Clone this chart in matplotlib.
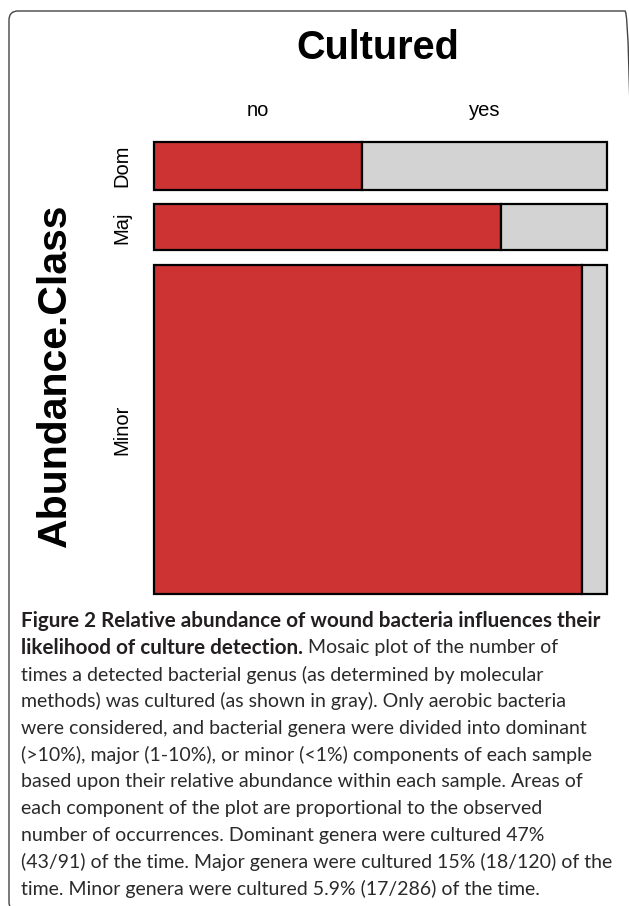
import matplotlib
matplotlib.use("Agg")
import matplotlib.pyplot as plt
import matplotlib.transforms as mtransforms
from matplotlib.patches import Rectangle, FancyBboxPatch

classes = ["Dom", "Maj", "Minor"]
cultured = ["no", "yes"]
row_share = [0.113, 0.109, 0.778]   # share of all occurrences per class
no_share = [0.46, 0.766, 0.945]     # share not cultured within each class

colors = ["#CD3333", "#D3D3D3"]

caption_bold1 = "Figure 2 Relative abundance of wound bacteria influences their"
caption_bold2 = "likelihood of culture detection."
caption_rest2 = " Mosaic plot of the number of"
caption_lines = [
    "times a detected bacterial genus (as determined by molecular",
    "methods) was cultured (as shown in gray). Only aerobic bacteria",
    "were considered, and bacterial genera were divided into dominant",
    "(>10%), major (1-10%), or minor (<1%) components of each sample",
    "based upon their relative abundance within each sample. Areas of",
    "each component of the plot are proportional to the observed",
    "number of occurrences. Dominant genera were cultured 47%",
    "(43/91) of the time. Major genera were cultured 15% (18/120) of the",
    "time. Minor genera were cultured 5.9% (17/286) of the time.",
]

W, H = 629, 906
fig = plt.figure(figsize=(W / 100, H / 100), dpi=100)

# rounded frame around the figure panel (right and bottom sides run off the page)
frame = FancyBboxPatch((0.09, -0.05), 6.25, 9.0,
                       boxstyle="round,pad=0,rounding_size=0.09",
                       transform=fig.dpi_scale_trans, fc="none",
                       ec="#444444", lw=1.0)
fig.patches.append(frame)

# mosaic axes
ax = fig.add_axes([154 / W, 1 - 594 / H, (607 - 154) / W, (594 - 142) / H])
gap = 0.0345
total = sum(row_share) + gap * (len(row_share) - 1)
ax.set_xlim(0, 1)
ax.set_ylim(total, 0)
ax.axis("off")

y = 0
centers = []
for cls, h, p in zip(classes, row_share, no_share):
    ax.add_patch(Rectangle((0, y), p, h, fc=colors[0], ec="black", lw=1.6, clip_on=False))
    ax.add_patch(Rectangle((p, y), 1 - p, h, fc=colors[1], ec="black", lw=1.6, clip_on=False))
    centers.append(y + h / 2)
    y += h + gap

# row labels
trans_y = mtransforms.blended_transform_factory(ax.transAxes, ax.transData)
for cls, c in zip(classes, centers):
    ax.text(-0.07, c, cls, transform=trans_y, rotation=90, ha="center", va="center",
            fontsize=14.5, family="Liberation Sans")

# column labels, over the first row's segments
trans_x = mtransforms.blended_transform_factory(ax.transData, ax.transAxes)
for lab, xc in zip(cultured, [no_share[0] / 2, (1 + no_share[0]) / 2]):
    ax.text(xc, 1 + 31 / 452, lab, transform=trans_x, ha="center", va="center",
            fontsize=14.5, family="Liberation Sans")

fig.text(378 / W, 1 - 48 / H, "Cultured", ha="center", va="center",
         fontsize=28.5, fontweight="bold", family="Liberation Sans")
fig.text(55 / W, 1 - 375 / H, "Abundance.Class", ha="center", va="center", rotation=90,
         fontsize=29.5, fontweight="bold", family="Liberation Sans")

# caption
reg_font = dict(fontsize=14.0, family="Lato", color="#2a2a2a")
bold_font = dict(fontsize=14.9, family="Lato", color="#231F20", fontweight="bold")
x0 = 21 / W
line_h = 26.8 / H
y0 = 1 - 621 / H
fig.text(x0, y0, caption_bold1, va="center", ha="left", **bold_font)
t = fig.text(x0, y0 - line_h, caption_bold2, va="center", ha="left", **bold_font)
r = fig.canvas.get_renderer()
bb = t.get_window_extent(r)
fig.text(bb.x1 / W, y0 - line_h, caption_rest2, va="center", ha="left", **reg_font)
for i, line in enumerate(caption_lines):
    fig.text(x0, y0 - (i + 2) * line_h, line, va="center", ha="left", **reg_font)

fig.savefig("out.png", dpi=100)
